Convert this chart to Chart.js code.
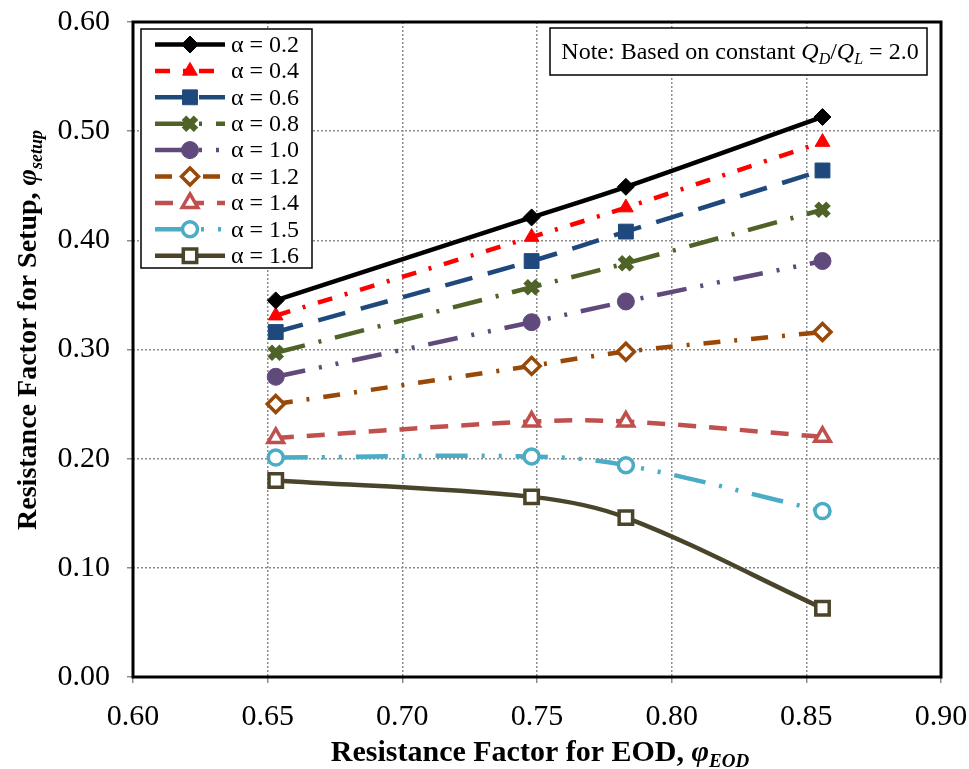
<!DOCTYPE html>
<html>
<head>
<meta charset="utf-8">
<script src="https://cdn.jsdelivr.net/npm/chart.js@4/dist/chart.umd.min.js"></script>
<style>
  html, body { margin: 0; padding: 0; background: #fff; }
  #wrap { width: 969px; height: 769px; }
</style>
</head>
<body>
<div id="wrap"><canvas id="chart" width="969" height="769"></canvas></div>
<script>
// data
const phiEOD = [0.653, 0.748, 0.783, 0.856];
const alphaLabels = ['α = 0.2', 'α = 0.4', 'α = 0.6', 'α = 0.8', 'α = 1.0', 'α = 1.2', 'α = 1.4', 'α = 1.5', 'α = 1.6'];
const a02 = [0.345, 0.421, 0.449, 0.513];
const a04 = [0.331, 0.403, 0.430, 0.490];
const a06 = [0.316, 0.381, 0.408, 0.464];
const a08 = [0.297, 0.357, 0.379, 0.428];
const a10 = [0.275, 0.325, 0.344, 0.381];
const a12 = [0.250, 0.285, 0.298, 0.316];
const a14 = [0.219, 0.234, 0.234, 0.220];
const a15 = [0.201, 0.202, 0.194, 0.152];
const a16 = [0.180, 0.165, 0.146, 0.063];
const xTicks = [0.60, 0.65, 0.70, 0.75, 0.80, 0.85, 0.90];
const yTicks = [0.00, 0.10, 0.20, 0.30, 0.40, 0.50, 0.60];

const series = [a02, a04, a06, a08, a10, a12, a14, a15, a16];

// look of each series
const colors = ['#000000', '#ff0000', '#1f497d', '#4f6228', '#604a7b', '#984807', '#c0504d', '#4bacc6', '#4a452a'];
const dashes = [[], [15, 13, 3, 13], [28, 16], [30, 14, 3, 14], [30, 14, 3, 14, 3, 14], [17, 14, 3, 14], [18, 13], [32, 14, 3, 14, 3, 14], []];
const markers = ['rectRot', 'triangle', 'rect', 'crossRot', 'circle', 'rectRot', 'triangle', 'circle', 'rect'];
const hollow = [false, false, false, false, false, true, true, true, true];
const radii = [8.5, 8.5, 10.5, 8.5, 8.5, 8.5, 9, 7.5, 9.5];

const serif = "'Liberation Serif', 'Times New Roman', serif";

const datasets = series.map((vals, i) => ({
  label: alphaLabels[i],
  data: phiEOD.map((x, j) => ({ x: x, y: vals[j] })),
  borderColor: colors[i],
  backgroundColor: hollow[i] ? '#ffffff' : colors[i],
  borderWidth: 4.5,
  borderDash: dashes[i],
  tension: 0.35,
  pointStyle: markers[i],
  pointRadius: radii[i],
  pointHoverRadius: radii[i],
  pointBorderWidth: hollow[i] ? 3.5 : (markers[i] === 'crossRot' ? 6.5 : 1),
  pointBorderColor: colors[i],
  pointBackgroundColor: hollow[i] ? '#ffffff' : colors[i]
}));

// draw a run of text pieces (for italics / subscripts)
function drawRich(ctx, parts, x, y, align) {
  let total = 0;
  parts.forEach(p => { ctx.font = p.font; total += ctx.measureText(p.text).width; });
  let cx = align === 'center' ? x - total / 2 : x;
  ctx.textAlign = 'left';
  ctx.textBaseline = 'alphabetic';
  parts.forEach(p => {
    ctx.font = p.font;
    ctx.fillText(p.text, cx, y + (p.dy || 0));
    cx += ctx.measureText(p.text).width;
  });
}

const extras = {
  id: 'extras',
  afterDraw(chart) {
    const ctx = chart.ctx;
    const a = chart.chartArea;
    ctx.save();

    // plot frame
    ctx.strokeStyle = '#000';
    ctx.lineWidth = 3;
    ctx.setLineDash([]);
    ctx.strokeRect(a.left, a.top, a.right - a.left, a.bottom - a.top);

    // legend box
    const lx = 141, ly = 29, lw = 171, lh = 239;
    ctx.fillStyle = '#fff';
    ctx.fillRect(lx, ly, lw, lh);
    ctx.lineWidth = 1.5;
    ctx.strokeStyle = '#000';
    ctx.strokeRect(lx, ly, lw, lh);
    chart.data.datasets.forEach((ds, i) => {
      const ry = 44.5 + i * 26.4;
      ctx.save();
      ctx.strokeStyle = ds.borderColor;
      ctx.lineWidth = 4.5;
      ctx.setLineDash(ds.borderDash);
      ctx.beginPath();
      ctx.moveTo(155, ry);
      ctx.lineTo(225, ry);
      ctx.stroke();
      ctx.setLineDash([]);
      ctx.fillStyle = ds.pointBackgroundColor;
      ctx.strokeStyle = ds.pointBorderColor;
      ctx.lineWidth = ds.pointBorderWidth;
      Chart.helpers.drawPoint(ctx, {
        pointStyle: ds.pointStyle,
        radius: ds.pointRadius,
        rotation: 0,
        borderWidth: ds.pointBorderWidth
      }, 190, ry);
      ctx.restore();
      ctx.fillStyle = '#000';
      ctx.font = '24px ' + serif;
      ctx.textAlign = 'left';
      ctx.textBaseline = 'middle';
      ctx.fillText(ds.label, 231, ry + 1);
    });

    // note box
    ctx.fillStyle = '#fff';
    ctx.fillRect(550, 28, 377, 47);
    ctx.lineWidth = 1.5;
    ctx.strokeStyle = '#000';
    ctx.strokeRect(550, 28, 377, 47);
    ctx.fillStyle = '#000';
    drawRich(ctx, [
      { text: 'Note: Based on constant ', font: '24px ' + serif },
      { text: 'Q', font: 'italic 24px ' + serif },
      { text: 'D', font: 'italic 16px ' + serif, dy: 5 },
      { text: '/', font: '24px ' + serif },
      { text: 'Q', font: 'italic 24px ' + serif },
      { text: 'L', font: 'italic 16px ' + serif, dy: 5 },
      { text: ' = 2.0', font: '24px ' + serif }
    ], 740, 59, 'center');

    // axis titles
    drawRich(ctx, [
      { text: 'Resistance Factor for EOD, ', font: 'bold 30px ' + serif },
      { text: 'φ', font: 'bold italic 30px ' + serif },
      { text: 'EOD', font: 'bold italic 19px ' + serif, dy: 6 }
    ], 540, 761, 'center');

    ctx.translate(36, 330);
    ctx.rotate(-Math.PI / 2);
    drawRich(ctx, [
      { text: 'Resistance Factor for Setup, ', font: 'bold 28px ' + serif },
      { text: 'φ', font: 'bold italic 28px ' + serif },
      { text: 'setup', font: 'bold italic 18px ' + serif, dy: 6 }
    ], 0, 0, 'center');

    ctx.restore();
  }
};

const gridOpts = {
  color: '#8c8c8c',
  lineWidth: 1.5,
  tickBorderDash: [],
  tickLength: 6,
  tickColor: '#8c8c8c'
};

new Chart(document.getElementById('chart'), {
  type: 'line',
  data: { datasets: datasets },
  plugins: [extras],
  options: {
    responsive: false,
    animation: false,
    events: [],
    layout: { padding: { top: 22, right: 28, left: 0, bottom: 0 } },
    plugins: {
      legend: { display: false },
      tooltip: { enabled: false }
    },
    scales: {
      x: {
        type: 'linear',
        min: 0.60,
        max: 0.90,
        afterFit: (scale) => {
          scale.height = 92;
          scale.paddingLeft = 0;
          scale.paddingRight = 0;
        },
        afterBuildTicks: (scale) => { scale.ticks = xTicks.map(v => ({ value: v })); },
        ticks: {
          color: '#000',
          font: { family: serif, size: 30 },
          padding: 16,
          maxRotation: 0,
          callback: (v) => Number(v).toFixed(2)
        },
        grid: gridOpts,
        border: { display: false, dash: [2, 2] }
      },
      y: {
        min: 0,
        max: 0.6,
        afterFit: (scale) => {
          scale.width = 133;
          scale.paddingTop = 0;
          scale.paddingBottom = 0;
        },
        afterBuildTicks: (scale) => { scale.ticks = yTicks.map(v => ({ value: v })); },
        ticks: {
          color: '#000',
          font: { family: serif, size: 30 },
          padding: 17,
          callback: (v) => Number(v).toFixed(2)
        },
        grid: gridOpts,
        border: { display: false, dash: [2, 2] }
      }
    }
  }
});
</script>
</body>
</html>
